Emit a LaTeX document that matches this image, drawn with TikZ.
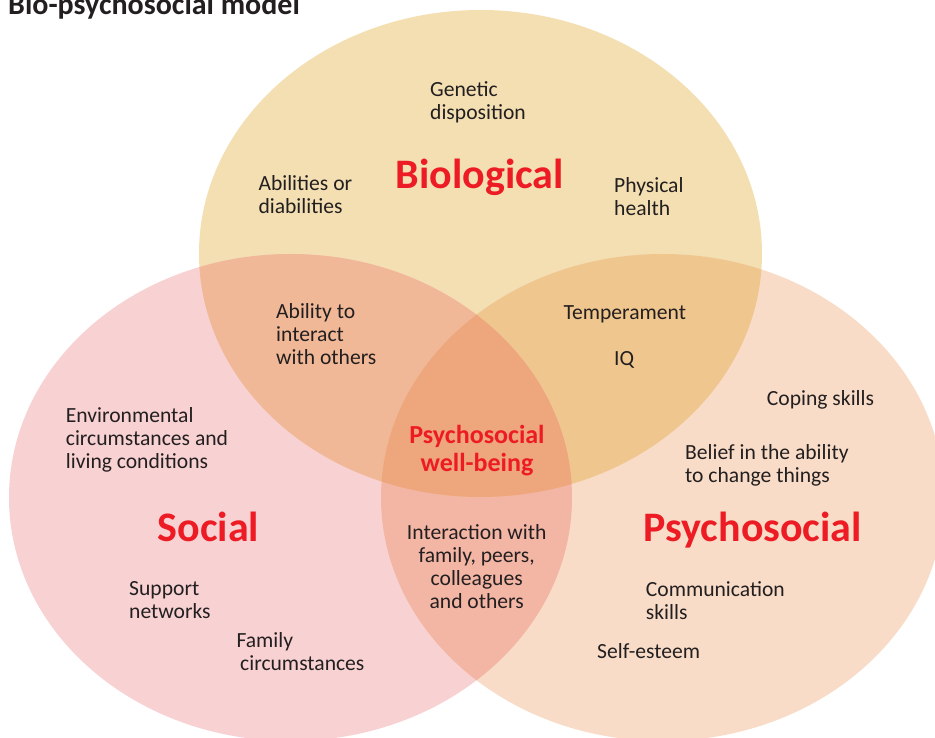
\documentclass[tikz,border=0pt]{standalone}
\usepackage{fontspec}
\setmainfont{Carlito}
\definecolor{bioC}{RGB}{243,223,178}
\definecolor{socC}{RGB}{248,209,210}
\definecolor{psyC}{RGB}{248,220,199}
\definecolor{bsC}{RGB}{240,184,150}
\definecolor{bpC}{RGB}{239,198,142}
\definecolor{spC}{RGB}{243,181,164}
\definecolor{allC}{RGB}{238,166,125}
\definecolor{hdC}{RGB}{237,28,36}
\definecolor{txC}{RGB}{35,31,32}
\tikzset{
  ell/.style={x radius=281.5pt, y radius=243.5pt},
  txt/.style={inner sep=0pt, text=txC, font=\fontsize{21.6}{23}\selectfont, align=left, anchor=base west},
  txc/.style={txt, align=center, anchor=base},
  big/.style={inner sep=0pt, text=hdC, font=\bfseries\fontsize{42}{46}\selectfont, anchor=base west},
  mid/.style={inner sep=0pt, text=hdC, font=\bfseries\fontsize{26}{28.4}\selectfont, align=center, anchor=base}
}
\begin{document}
\begin{tikzpicture}[x=1pt,y=-1pt]
\useasboundingbox (0,0) rectangle (935,738);
\coordinate (cb) at (480.5,253.5);
\coordinate (cs) at (290.5,497.5);
\coordinate (cp) at (662.5,497.5);
\begin{scope}
  \clip (0,0) rectangle (935,738);
  \fill[bioC] (cb) ellipse [ell];
  \fill[socC] (cs) ellipse [ell];
  \fill[psyC] (cp) ellipse [ell];
  \begin{scope}
    \clip (cb) ellipse [ell];
    \fill[bsC] (cs) ellipse [ell];
    \fill[bpC] (cp) ellipse [ell];
  \end{scope}
  \begin{scope}
    \clip (cs) ellipse [ell];
    \fill[spC] (cp) ellipse [ell];
  \end{scope}
  \begin{scope}
    \clip (cb) ellipse [ell];
    \clip (cs) ellipse [ell];
    \fill[allC] (cp) ellipse [ell];
  \end{scope}
  \node[inner sep=0pt, anchor=base west, text=txC, font=\bfseries\fontsize{30}{31}\selectfont] (title) at (8,15) {Bio-psychosocial model};
\end{scope}

\node[big] (bio) at (395.7,188.3) {Biological};
\node[big] (soc) at (157.7,541.7) {Social};
\node[big] (psy) at (643.3,541.7) {Psychosocial};
\node[mid] (wb) at (477,471.7) {Psychosocial\\well-being};

\node[txt] (gen) at (430,120) {Genetic\\disposition};
\node[txt] (abl) at (258.3,214) {Abilities or\\diabilities};
\node[txt] (phy) at (614,216) {Physical\\health};
\node[txt] (int) at (276,364) {Ability to\\interact\\with others};
\node[txt] (tem) at (563.3,319.3) {Temperament};
\node[txt] (iq) at (614,365.5) {IQ};
\node[txt] (env) at (65.7,468.3) {Environmental\\circumstances and\\living conditions};
\node[txt] (cop) at (766.7,405) {Coping skills};
\node[txt] (bel) at (685,482.7) {Belief in the ability\\to change things};
\node[txc] (ia) at (476.7,608.3) {Interaction with\\family, peers,\\colleagues\\and others};
\node[txt] (sup) at (129,618.3) {Support\\networks};
\node[txt] (com) at (645.7,619) {Communication\\skills};
\node[txt] (fam) at (236.3,670) {Family\\\hspace*{3.7pt}circumstances};
\node[txt] (self) at (597,658.3) {Self-esteem};
\end{tikzpicture}
\end{document}
